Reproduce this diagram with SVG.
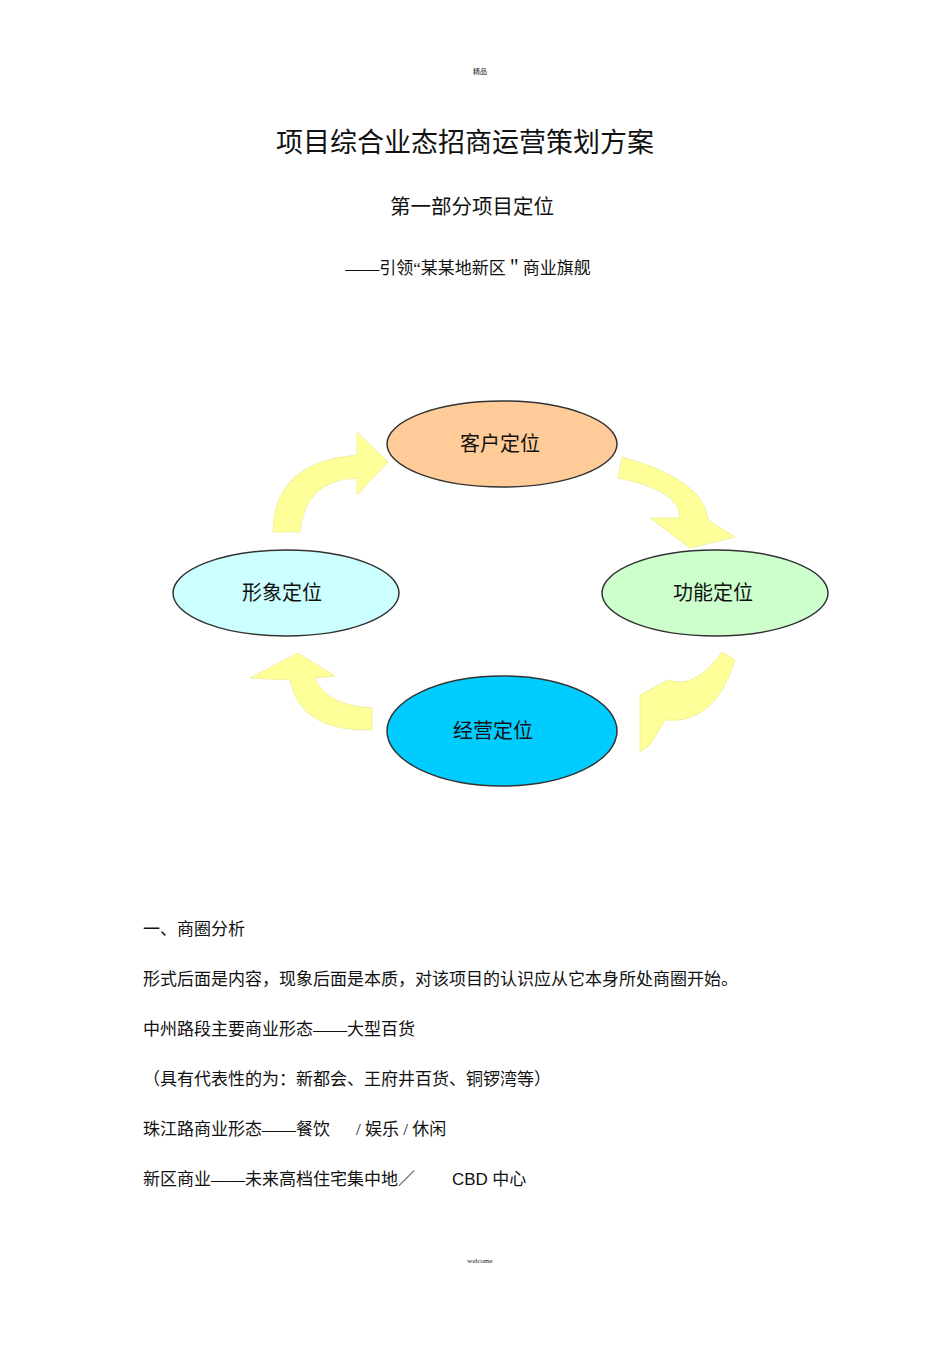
<svg xmlns="http://www.w3.org/2000/svg" width="950" height="1345" viewBox="0 0 950 1345">
<style>
text{font-family:"Liberation Serif","Noto Sans CJK SC",serif;fill:#111}
.b{font-size:17px}
.n{font-size:20px;text-anchor:middle;font-family:"Noto Sans CJK SC",sans-serif}
.e{stroke:#333;stroke-width:1.5}
.a{fill:#FFFF99;stroke:#F0F0A0;stroke-width:1}
</style>
<rect width="950" height="1345" fill="#fff"/>
<text x="480" y="74" font-size="7" text-anchor="middle">精品</text>
<text x="465" y="152" font-size="27" text-anchor="middle">项目综合业态招商运营策划方案</text>
<text x="472" y="214" font-size="20.5" text-anchor="middle">第一部分项目定位</text>
<text x="468" y="274" class="b" text-anchor="middle">——引领“某某地新区＂商业旗舰</text>
<g id="connectors">
<path class="a" d="M273,532 Q273,462 357,455 L357,432 L388,462 L357,495 L357,478 Q305,480 300,532 Z"/>
<path class="a" d="M622,457 Q705,480 708,520 L735,537 L690,548 L650,518 L680,518 Q680,490 618,478 Z"/>
<path class="a" d="M722,652 L735,660 Q715,725 665,720 L650,745 L640,752 L640,695 L668,680 Q695,690 722,652 Z"/>
<path class="a" d="M372,708 L372,730 Q300,732 290,680 L250,678 L298,653 L335,676 L315,678 Q325,705 372,708 Z"/>
</g>
<g id="n1"><ellipse class="e" cx="502" cy="444" rx="115" ry="43" fill="#FFCC99"/><text class="n" x="500" y="451">客户定位</text></g>
<g id="n2"><ellipse class="e" cx="715" cy="593" rx="113" ry="43" fill="#CCFFCC"/><text class="n" x="713" y="600">功能定位</text></g>
<g id="n3"><ellipse class="e" cx="502" cy="731" rx="115" ry="55" fill="#00CCFF"/><text class="n" x="493" y="738" font-size="18">经营定位</text></g>
<g id="n4"><ellipse class="e" cx="286" cy="593" rx="113" ry="43" fill="#CCFFFF"/><text class="n" x="282" y="600">形象定位</text></g>
<text x="143" y="935" class="b">一、商圈分析</text>
<text x="143" y="985" class="b">形式后面是内容，现象后面是本质，对该项目的认识应从它本身所处商圈开始。</text>
<text x="143" y="1035" class="b">中州路段主要商业形态——大型百货</text>
<text x="143" y="1085" class="b">（具有代表性的为：新都会、王府井百货、铜锣湾等）</text>
<text x="143" y="1135" class="b">珠江路商业形态——餐饮 <tspan x="356">/ 娱乐 / 休闲</tspan></text>
<text x="143" y="1185" class="b">新区商业——未来高档住宅集中地／ <tspan x="452" font-family="Liberation Sans,sans-serif">CBD</tspan> 中心</text>
<text x="480" y="1263" font-size="7" text-anchor="middle">welcome</text>
</svg>
